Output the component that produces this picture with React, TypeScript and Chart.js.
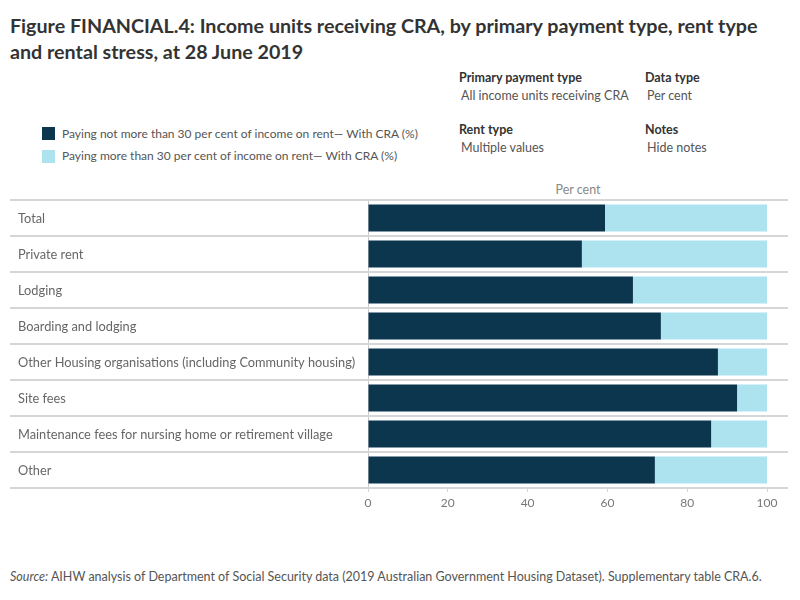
import React, { useEffect, useRef } from "react";
import { Chart, registerables } from "chart.js";

Chart.register(...registerables);

const categories = [
  "Total",
  "Private rent",
  "Lodging",
  "Boarding and lodging",
  "Other Housing organisations (including Community housing)",
  "Site fees",
  "Maintenance fees for nursing home or retirement village",
  "Other",
];

const notMoreThan30 = [59.4, 53.6, 66.4, 73.4, 87.7, 92.5, 86.0, 71.9];
const moreThan30 = [40.6, 46.4, 33.6, 26.6, 12.3, 7.5, 14.0, 28.1];

const xTicks = [0, 20, 40, 60, 80, 100];

const seriesNames = [
  "Paying not more than 30 per cent of income on rent\u2014 With CRA (%)",
  "Paying more than 30 per cent of income on rent\u2014 With CRA (%)",
];

const DARK = "#0b364e";
const LIGHT = "#ace3ef";
const FONT = "Lato, 'Open Sans', sans-serif";

const separatorPlugin = {
  id: "separators",
  beforeDatasetsDraw(chart: any) {
    const y = chart.scales.y;
    const ctx = chart.ctx;
    const n = categories.length;
    const step = (y.bottom - y.top) / n;
    ctx.save();
    ctx.strokeStyle = "#d6d6d6";
    ctx.lineWidth = 2;
    for (let i = 0; i <= n; i++) {
      const yy = Math.round(y.top + i * step);
      ctx.beginPath();
      ctx.moveTo(10, yy);
      ctx.lineTo(788, yy);
      ctx.stroke();
    }
    ctx.restore();
  },
};

export default function App() {
  const ref = useRef<HTMLCanvasElement | null>(null);

  useEffect(() => {
    if (!ref.current) return;
    const chart = new Chart(ref.current, {
      type: "bar",
      data: {
        labels: categories,
        datasets: [
          {
            label: seriesNames[0],
            data: notMoreThan30,
            backgroundColor: DARK,
            categoryPercentage: 1,
            barPercentage: 0.75,
          },
          {
            label: seriesNames[1],
            data: moreThan30,
            backgroundColor: LIGHT,
            categoryPercentage: 1,
            barPercentage: 0.75,
          },
        ],
      },
      options: {
        indexAxis: "y",
        animation: false,
        responsive: false,
        maintainAspectRatio: false,
        layout: { padding: { left: 18, right: 33, top: 20, bottom: 0 } },
        plugins: {
          legend: { display: false },
          tooltip: { enabled: false },
        },
        scales: {
          x: {
            stacked: true,
            min: 0,
            max: 100,
            afterBuildTicks: (scale: any) => {
              scale.ticks = xTicks.map((v) => ({ value: v }));
            },
            afterFit: (scale: any) => {
              scale.height = 32;
            },
            grid: {
              drawOnChartArea: false,
              drawTicks: true,
              tickLength: 4,
              color: "#d6d6d6",
            },
            border: { display: false },
            ticks: {
              color: "#777",
              font: { family: FONT, size: 12 },
              padding: 4,
              maxRotation: 0,
            },
          },
          y: {
            stacked: true,
            afterFit: (scale: any) => {
              scale.width = 350;
            },
            grid: { display: false, drawTicks: false },
            border: { display: true, color: "#c8c8c8", dash: [1, 3], width: 1 },
            ticks: {
              crossAlign: "far",
              color: "#666",
              font: { family: FONT, size: 12.8 },
              padding: 0,
              labelOffset: 1,
            },
          },
        },
      },
      plugins: [separatorPlugin],
    });
    return () => chart.destroy();
  }, []);

  const abs = (x: number, y: number, extra: any = {}) => ({
    position: "absolute" as const,
    left: x,
    top: y,
    whiteSpace: "nowrap" as const,
    ...extra,
  });

  const headStyle = { fontFamily: FONT, fontSize: 12.5, fontWeight: 700, color: "#333" };
  const valStyle = { fontFamily: FONT, fontSize: 12.5, color: "#555" };

  return (
    <div
      style={{
        position: "fixed",
        left: 0,
        top: 0,
        width: 800,
        height: 600,
        background: "#fff",
        overflow: "hidden",
      }}
    >
      <div
        style={abs(10, 13, {
          fontFamily: FONT,
          fontSize: 19.7,
          fontWeight: 700,
          color: "#333",
          lineHeight: "26px",
          width: 780,
          whiteSpace: "normal",
        })}
      >
        Figure FINANCIAL.4: Income units receiving CRA, by primary payment type, rent type and rental stress, at 28 June 2019
      </div>

      <div style={abs(459, 70, headStyle)}>Primary payment type</div>
      <div style={abs(461, 88, valStyle)}>All income units receiving CRA</div>
      <div style={abs(645, 70, headStyle)}>Data type</div>
      <div style={abs(647, 88, valStyle)}>Per cent</div>
      <div style={abs(459, 122, headStyle)}>Rent type</div>
      <div style={abs(461, 140, valStyle)}>Multiple values</div>
      <div style={abs(645, 122, headStyle)}>Notes</div>
      <div style={abs(647, 140, valStyle)}>Hide notes</div>

      <div style={abs(42, 127, { width: 13, height: 13, background: DARK })} />
      <div style={abs(62, 126, { fontFamily: FONT, fontSize: 12, color: "#555" })}>{seriesNames[0]}</div>
      <div style={abs(42, 150, { width: 13, height: 13, background: LIGHT })} />
      <div style={abs(62, 148, { fontFamily: FONT, fontSize: 12, color: "#555" })}>{seriesNames[1]}</div>

      <div style={abs(578, 182, { fontFamily: FONT, fontSize: 12.5, color: "#888", transform: "translateX(-50%)" })}>
        Per cent
      </div>

      <canvas ref={ref} width={800} height={340} style={{ position: "absolute", left: 0, top: 180, width: 800, height: 340 }} />

      <div style={abs(10, 569, { fontFamily: FONT, fontSize: 12.5, color: "#555" })}>
        <i>Source:</i> AIHW analysis of Department of Social Security data (2019 Australian Government Housing Dataset). Supplementary table CRA.6.
      </div>
    </div>
  );
}
